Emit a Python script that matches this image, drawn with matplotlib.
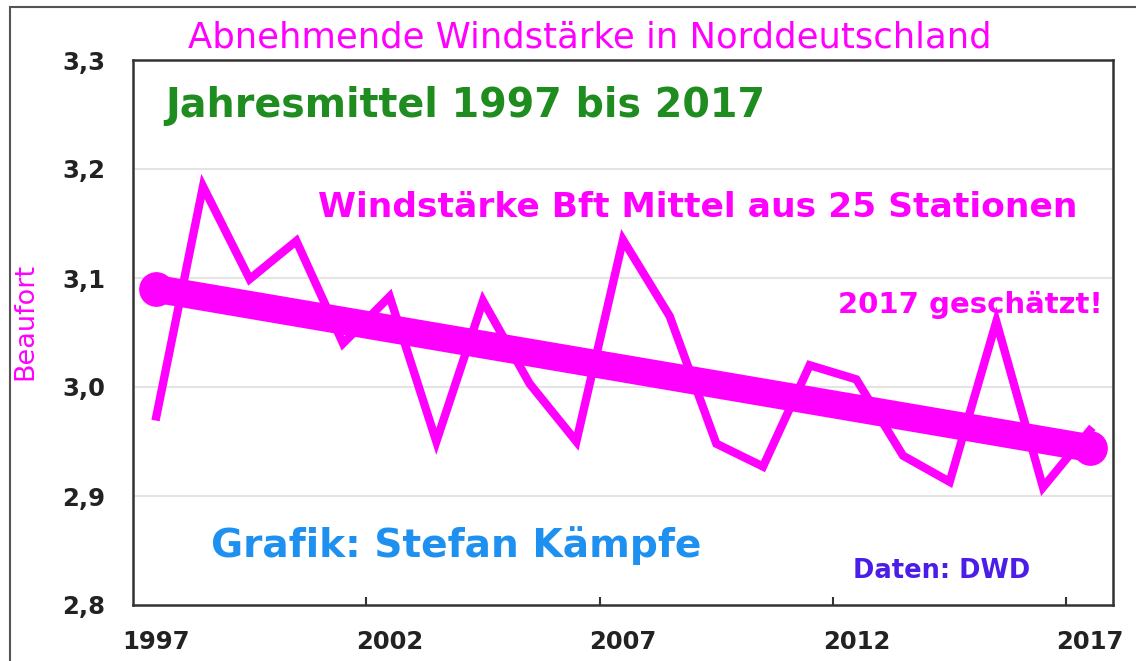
import numpy as np
import matplotlib
matplotlib.use('Agg')
import matplotlib.pyplot as plt
from matplotlib.patches import Rectangle

years = list(range(1997, 2018))
wind = [2.973, 3.184, 3.099, 3.134, 3.040, 3.083, 2.950, 3.079, 3.003, 2.950,
        3.135, 3.065, 2.948, 2.927, 3.020, 3.007, 2.937, 2.913, 3.060, 2.908, 2.960]
trend_years = [1997, 2017]
trend_vals = [3.090, 2.944]

xtick_years = [1997, 2002, 2007, 2012, 2017]
yticks = [2.8, 2.9, 3.0, 3.1, 3.2, 3.3]

W, H = 1136, 661
fig = plt.figure(figsize=(W / 100, H / 100), dpi=100)
plt.rcParams['font.family'] = ['DejaVu Sans']

def fx(px):
    return px / W

def fy(py):
    return 1 - py / H

ax = fig.add_axes([fx(133), fy(605), (1113 - 133) / W, (605 - 60) / H])

magenta = '#ff00ff'
ax.plot(years, wind, color=magenta, lw=6, solid_joinstyle='miter', zorder=3)
ax.plot(trend_years, trend_vals, color=magenta, lw=20, solid_capstyle='round',
        marker='o', markersize=24, zorder=4)

ax.set_xlim(1996.5, 2017.5)
ax.set_ylim(2.8, 3.3)
ax.set_yticks(yticks)
ax.set_yticklabels([('%.1f' % v).replace('.', ',') for v in yticks])
ax.set_xticks(xtick_years)
ax.set_xticklabels([str(y) for y in xtick_years])
ax.set_xticks([y - 0.5 for y in xtick_years[1:]], minor=True)
ax.tick_params(axis='x', which='major', length=0, pad=18, labelsize=17.5)
ax.tick_params(axis='x', which='minor', direction='in', length=6, width=1.5, color='#333333')
ax.tick_params(axis='y', length=0, pad=20, labelsize=17.5)
for lab in ax.get_xticklabels() + ax.get_yticklabels():
    lab.set_fontweight('bold')
    lab.set_color('#222222')

for v in yticks[1:-1]:
    ax.axhline(v, color='#e4e4e4', lw=1.5, zorder=1)

for s in ax.spines.values():
    s.set_color('#333333')
    s.set_linewidth(1.8)

ax.set_ylabel('Beaufort', color=magenta, fontsize=19.5)
ax.yaxis.set_label_coords(fx(38 - 133) / ((1113 - 133) / W), 0.52)

fig.text(fx(590), fy(47), 'Abnehmende Windstärke in Norddeutschland', color=magenta,
         fontsize=25.5, ha='center', va='baseline')
fig.text(fx(165), fy(117), 'Jahresmittel 1997 bis 2017', color='#1e8c1e',
         fontsize=28.5, fontweight='bold', ha='left', va='baseline')
fig.text(fx(318), fy(217), 'Windstärke Bft Mittel aus 25 Stationen', color=magenta,
         fontsize=24.8, fontweight='bold', ha='left', va='baseline')
fig.text(fx(838), fy(313), '2017 geschätzt!', color=magenta,
         fontsize=21, fontweight='bold', ha='left', va='baseline')
fig.text(fx(211), fy(557), 'Grafik: Stefan Kämpfe', color='#1e90f0',
         fontsize=28.2, fontweight='bold', ha='left', va='baseline')
fig.text(fx(853), fy(578), 'Daten: DWD', color='#4a1ee6',
         fontsize=18.5, fontweight='bold', ha='left', va='baseline')

fig.patches.append(Rectangle((fx(10), fy(700)), fx(1200), (700 - 7) / H, transform=fig.transFigure,
                             fill=False, edgecolor='#555555', lw=1.5, zorder=0))

fig.savefig('out.png', dpi=100)
